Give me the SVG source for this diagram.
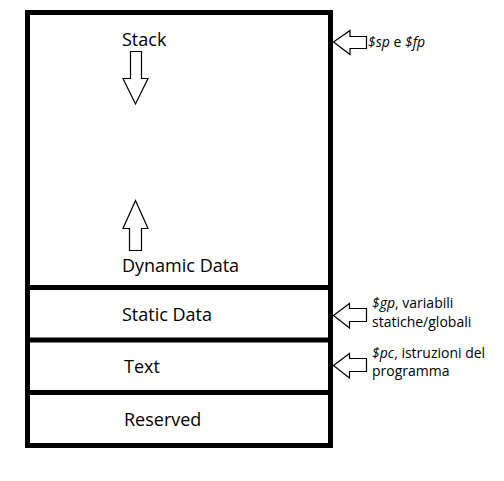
<svg xmlns="http://www.w3.org/2000/svg" width="504" height="481" viewBox="0 0 504 481">
<style>
.box{fill:none;stroke:#000;stroke-width:5}
.sep{stroke:#000;stroke-width:5}
.lbl{font-family:"Open Sans","Liberation Sans",sans-serif;font-size:18px;fill:#000}
.note{font-family:"Open Sans","Liberation Sans",sans-serif;font-size:14px;fill:#000}
.arr{fill:#fff;stroke:#000;stroke-width:1.2;stroke-linejoin:miter}
</style>
<rect width="504" height="481" fill="#fff"/>
<g id="memory">
<rect class="box" x="27.5" y="12.5" width="303" height="433"/>
</g>
<g id="stack">
<text class="lbl" x="122" y="46">Stack</text>
<polygon class="arr" points="130.5,51.5 141.5,51.5 141.5,78.5 148,78.5 135.5,104 123,78.5 130.5,78.5"/>
</g>
<g id="dynamic">
<polygon class="arr" points="135.5,200.5 148,228.5 141.5,228.5 141.5,250.5 129.5,250.5 129.5,228.5 123,228.5"/>
<text class="lbl" x="122" y="272">Dynamic Data</text>
</g>
<g id="static">
<line class="sep" x1="27.5" y1="287.5" x2="330.5" y2="287.5"/>
<text class="lbl" x="122" y="321">Static Data</text>
</g>
<g id="text">
<line class="sep" x1="27.5" y1="340" x2="330.5" y2="340"/>
<text class="lbl" x="124" y="373">Text</text>
</g>
<g id="reserved">
<line class="sep" x1="27.5" y1="392.5" x2="330.5" y2="392.5"/>
<text class="lbl" x="124" y="426">Reserved</text>
</g>
<g id="connectors">
<polygon class="arr" points="333.5,42 350,30.5 350,36.5 366.5,36.5 366.5,48.5 350,48.5 350,54.5"/>
<polygon class="arr" points="333.5,315.5 349.5,303.5 349.5,308.5 366.5,308.5 366.5,321.5 349.5,321.5 349.5,328"/>
<polygon class="arr" points="333.5,365.5 349.5,353.5 349.5,358.5 366.5,358.5 366.5,371.5 349.5,371.5 349.5,378"/>
</g>
<g id="notes">
<text class="note" x="368" y="47"><tspan font-style="italic">$sp</tspan> e <tspan font-style="italic">$fp</tspan></text>
<text class="note" x="372" y="308"><tspan font-style="italic">$gp</tspan>, variabili</text>
<text class="note" x="372" y="327">statiche/globali</text>
<text class="note" x="372" y="358"><tspan font-style="italic">$pc</tspan>, istruzioni del</text>
<text class="note" x="372" y="376">programma</text>
</g>
</svg>
